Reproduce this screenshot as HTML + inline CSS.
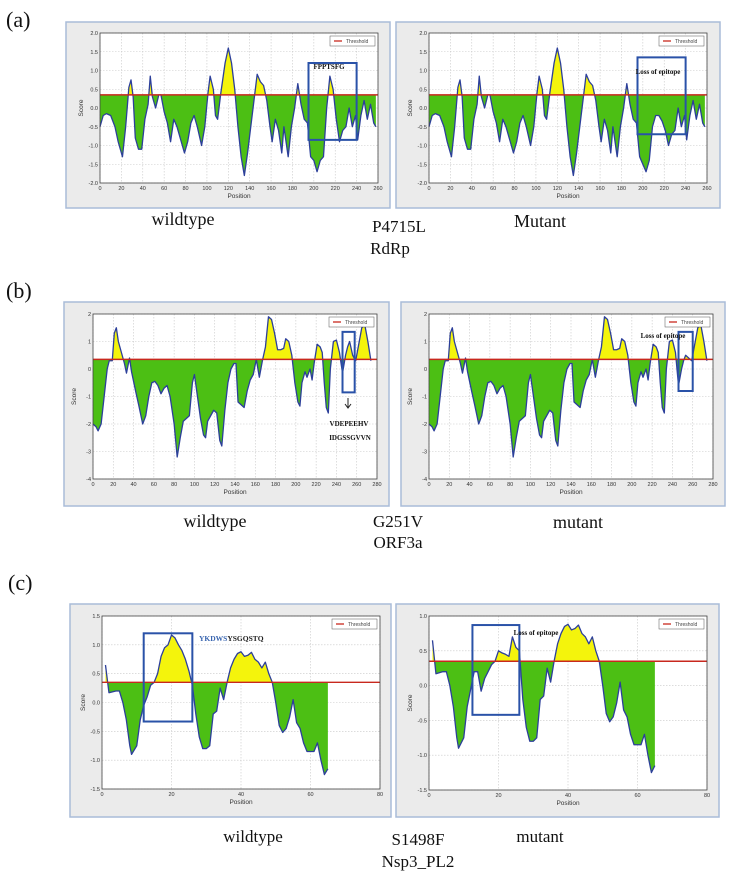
<!DOCTYPE html>
<html><head><meta charset="utf-8">
<style>
body{margin:0;background:#fff;width:738px;height:878px;overflow:hidden;position:relative;font-family:"Liberation Serif",serif}
svg{position:absolute;left:0;top:0}
</style></head>
<body>
<svg id="fig" width="738" height="878" viewBox="0 0 738 878"></svg>
<script>
// ---- data (a) RdRp ----
const aPosWt=[0,3,6,10,14,17,21,24,27,29,31,33,36,39,42,45,47,49,52,55,57,60,63,66,69,72,76,79,82,85,88,91,95,98,101,103,106,108,110,113,117,120,123,126,129,132,135,138,141,144,147,150,153,156,159,161,164,167,170,172,174,176,179,182,185,188,191,194,197,200,203,206,209,212,215,218,221,224,227,230,233,236,239,241,244,247,250,253,256,258];
const aScoreWt=[-0.5,-0.2,-0.15,-0.2,-0.5,-0.9,-1.3,-0.5,0.55,0.75,0.3,-0.8,-1.1,-1.1,-0.3,0.1,0.85,0.3,0.0,0.35,0.35,-0.1,-0.4,-0.9,-0.3,-0.5,-0.9,-1.2,-0.9,-0.4,-0.2,-0.5,-1.0,-0.5,0.4,0.85,0.5,-0.2,-0.3,0.4,1.2,1.6,1.2,0.5,-0.5,-1.3,-1.8,-1.2,-0.5,0.2,0.9,0.7,0.6,0.2,-0.5,-0.9,-0.3,-0.6,-1.2,-0.5,-0.9,-1.3,-0.5,0.0,0.65,0.1,-0.3,-0.4,-1.3,-1.4,-1.7,-1.4,-1.3,0.0,0.85,0.5,-0.3,-0.9,-0.6,-0.5,0.0,-0.5,-0.2,-0.85,-0.2,0.2,-0.3,0.1,-0.4,-0.5];
const aScoreMut=[-0.5,-0.2,-0.15,-0.2,-0.5,-0.9,-1.3,-0.5,0.55,0.75,0.3,-0.8,-1.1,-1.1,-0.3,0.1,0.85,0.3,0.0,0.35,0.35,-0.1,-0.4,-0.9,-0.3,-0.5,-0.9,-1.2,-0.9,-0.4,-0.2,-0.5,-1.0,-0.5,0.4,0.85,0.5,-0.2,-0.3,0.4,1.2,1.6,1.2,0.5,-0.5,-1.3,-1.8,-1.2,-0.5,0.2,0.9,0.7,0.6,0.2,-0.5,-0.9,-0.3,-0.6,-1.2,-0.5,-0.9,-1.3,-0.5,0.0,0.65,0.1,-0.3,-0.4,-1.3,-1.5,-1.7,-1.4,-0.5,-0.2,-0.2,-0.35,-0.6,-1.0,-0.7,-0.6,0.0,-0.5,-0.2,-0.85,-0.2,0.2,-0.3,0.1,-0.4,-0.5];
// ---- data (b) ORF3a ----
const bPosWt=[0,3,5,8,11,14,16,19,21,23,25,28,31,33,36,38,42,45,49,52,55,58,61,64,67,70,73,76,80,83,86,89,92,95,98,100,103,106,109,111,113,116,119,122,125,127,130,133,136,139,141,143,146,149,152,155,158,161,164,167,170,173,176,179,182,185,188,190,193,196,199,202,204,206,209,211,214,216,218,221,224,226,228,230,232,234,237,240,243,246,249,251,253,256,259,262,265,268,271,274];
const bScoreWt=[-2.0,-2.1,-2.25,-2.0,-1.0,0.0,0.3,0.3,1.3,1.5,1.0,0.6,0.2,-0.15,0.4,-0.1,-0.8,-1.3,-2.0,-1.7,-1.0,-0.5,-0.45,-0.6,-0.9,-0.7,-0.6,-1.0,-2.0,-3.2,-2.5,-1.9,-1.8,-1.7,-0.5,-0.2,-1.0,-1.8,-2.4,-2.5,-1.9,-1.7,-1.5,-1.6,-2.6,-2.8,-1.5,-0.5,0.0,0.2,0.2,-1.2,-1.3,-1.4,-0.8,-0.4,-0.2,0.35,-0.3,0.3,0.8,1.9,1.8,1.3,0.7,0.7,0.75,1.1,1.0,0.5,-0.5,-1.2,-1.35,-0.5,-0.1,-0.3,0.0,-0.4,0.2,0.9,0.8,0.6,-0.5,-1.4,-1.6,0.0,1.0,1.05,0.6,-0.15,0.5,0.8,1.0,0.5,0.3,0.9,1.5,1.6,1.0,0.3];
const bScoreMut=[-2.0,-2.1,-2.25,-2.0,-1.0,0.0,0.3,0.3,1.3,1.5,1.0,0.6,0.2,-0.15,0.4,-0.1,-0.8,-1.3,-2.0,-1.7,-1.0,-0.5,-0.45,-0.6,-0.9,-0.7,-0.6,-1.0,-2.0,-3.2,-2.5,-1.9,-1.8,-1.7,-0.5,-0.2,-1.0,-1.8,-2.4,-2.5,-1.9,-1.7,-1.5,-1.6,-2.6,-2.8,-1.5,-0.5,0.0,0.2,0.2,-1.2,-1.3,-1.4,-0.8,-0.4,-0.2,0.35,-0.3,0.3,0.8,1.9,1.8,1.3,0.7,0.7,0.75,1.1,1.0,0.5,-0.5,-1.2,-1.35,-0.5,-0.1,-0.3,0.0,-0.4,0.2,0.9,0.8,0.6,-0.5,-1.4,-1.6,0.0,1.0,1.05,0.6,-0.6,0.0,0.3,0.5,0.4,0.3,0.9,1.5,1.6,1.0,0.3];
// ---- data (c) Nsp3_PL2 ----
const cPosWt=[1,2,4,5,6,7,8,8.5,10,11,12,13,14,15,16,17,18,19,20,21,22,23,24,25,26,27,28,29,30,31,32,33,34,35,36,37,38,39,40,41,42,43,44,45,46,47,48,49,50,51,52,53,54,55,56,57,58,59,60,61,62,63,64,65];
const cScoreWt=[0.65,0.17,0.2,0.2,0.0,-0.3,-0.75,-0.9,-0.75,-0.3,-0.05,0.1,0.3,0.35,0.5,0.8,0.95,1.0,1.17,1.12,1.0,0.9,0.75,0.55,0.3,-0.2,-0.6,-0.8,-0.8,-0.75,-0.2,-0.15,0.25,0.05,0.35,0.6,0.75,0.85,0.88,0.8,0.82,0.87,0.75,0.7,0.6,0.7,0.5,0.35,0.0,-0.4,-0.52,-0.45,-0.25,0.05,-0.35,-0.45,-0.7,-0.85,-0.85,-0.85,-0.7,-1.0,-1.25,-1.15];
const cScoreMut=[0.65,0.17,0.2,0.2,0.0,-0.3,-0.75,-0.9,-0.75,-0.3,-0.05,0.2,0.2,-0.08,0.1,0.2,0.3,0.35,0.5,0.47,0.45,0.42,0.7,0.55,0.5,-0.2,-0.6,-0.8,-0.8,-0.75,-0.2,-0.15,0.25,0.05,0.35,0.6,0.75,0.85,0.88,0.8,0.82,0.87,0.75,0.7,0.6,0.7,0.5,0.35,0.0,-0.4,-0.52,-0.45,-0.25,0.05,-0.35,-0.45,-0.7,-0.85,-0.85,-0.85,-0.7,-1.0,-1.25,-1.15];
const threshold=0.35;
const aXTicks=[0,20,40,60,80,100,120,140,160,180,200,220,240,260];
const aYTicks=[2.0,1.5,1.0,0.5,0.0,-0.5,-1.0,-1.5,-2.0];
const bXTicks=[0,20,40,60,80,100,120,140,160,180,200,220,240,260,280];
const bYTicks=[2,1,0,-1,-2,-3,-4];
const cXTicks=[0,20,40,60,80];
const cYTicksWt=[1.5,1.0,0.5,0.0,-0.5,-1.0,-1.5];
const cYTicksMut=[1.0,0.5,0.0,-0.5,-1.0,-1.5];

const NS="http://www.w3.org/2000/svg";
const svg=document.getElementById('fig');
let clipId=0;
function mk(tag,attrs,parent,text){const e=document.createElementNS(NS,tag);for(const k in attrs)e.setAttribute(k,attrs[k]);if(text!==undefined)e.textContent=text;(parent||svg).appendChild(e);return e;}

function panel(cfg){
  const g=mk('g',{});
  
  
  const bx=mk('rect',{x:cfg.box[0],y:cfg.box[1],width:cfg.box[2]-cfg.box[0],height:cfg.box[3]-cfg.box[1],fill:'#ebebeb',stroke:'#a9bcd8','stroke-width':1.5},g);
  
  const [px0,py0,px1,py1]=cfg.plot;
  const [xmin,xmax]=cfg.xd,[ymin,ymax]=cfg.yd;
  const X=v=>px0+(v-xmin)/(xmax-xmin)*(px1-px0);
  const Y=v=>py1-(v-ymin)/(ymax-ymin)*(py1-py0);
  mk('rect',{x:px0,y:py0,width:px1-px0,height:py1-py0,fill:'#fff'},g);
  cfg.xt.forEach(t=>{mk('line',{x1:X(t),x2:X(t),y1:py0,y2:py1,stroke:'#c8c8c8','stroke-width':0.6,'stroke-dasharray':'1.5,1.5'},g);
    const tl=mk('text',{x:X(t),y:py1+7,'font-size':5.5,'text-anchor':'middle','font-family':'Liberation Sans, sans-serif',fill:'#333'},g,String(t));
    });
  cfg.yt.forEach(t=>{mk('line',{x1:px0,x2:px1,y1:Y(t),y2:Y(t),stroke:'#c8c8c8','stroke-width':0.6,'stroke-dasharray':'1.5,1.5'},g);
    const tl=mk('text',{x:px0-2,y:Y(t)+2,'font-size':5.5,'text-anchor':'end','font-family':'Liberation Sans, sans-serif',fill:'#333'},g,cfg.dec?t.toFixed(1):String(t));
    });
  const pts=cfg.pos.map((p,i)=>[X(p),Y(cfg.score[i])]);
  const ty=Y(threshold);
  let d='M'+pts[0][0]+','+ty+' '+pts.map(p=>'L'+p[0]+','+p[1]).join(' ')+' L'+pts[pts.length-1][0]+','+ty+'Z';
  const defs=mk('defs',{},g);
  const ca='c'+(clipId++),cb='c'+(clipId++);
  const cpa=mk('clipPath',{id:ca},defs);mk('rect',{x:px0,y:py0,width:px1-px0,height:ty-py0},cpa);
  const cpb=mk('clipPath',{id:cb},defs);mk('rect',{x:px0,y:ty,width:px1-px0,height:py1-ty},cpb);
  const fy=mk('path',{d:d,fill:'#f4f40c','clip-path':'url(#'+ca+')'},g);
  
  const fg=mk('path',{d:d,fill:'#4cbf14','clip-path':'url(#'+cb+')'},g);
  
  const ln=mk('polyline',{points:pts.map(p=>p.join(',')).join(' '),fill:'none',stroke:'#2c3f9a','stroke-width':1.3,'stroke-linejoin':'round'},g);
  
  const th=mk('line',{x1:px0,x2:px1,y1:ty,y2:ty,stroke:'#c8281e','stroke-width':1.4},g);
  
  mk('rect',{x:px0,y:py0,width:px1-px0,height:py1-py0,fill:'none',stroke:'#444','stroke-width':0.8},g);
  const lg=mk('g',{},g);
  mk('rect',{x:px1-48,y:py0+3,width:45,height:10,fill:'#fff',stroke:'#555','stroke-width':0.5},lg);
  mk('line',{x1:px1-44,x2:px1-36,y1:py0+8,y2:py0+8,stroke:'#c8281e','stroke-width':1.3},lg);
  mk('text',{x:px1-32,y:py0+10,'font-size':5,'font-family':'Liberation Sans, sans-serif',fill:'#444'},lg,'Threshold');
  const xl=mk('text',{x:(px0+px1)/2,y:py1+15,'font-size':6.5,'text-anchor':'middle','font-family':'Liberation Sans, sans-serif',fill:'#333'},g,'Position');
  
  const yl=mk('text',{x:0,y:0,'font-size':6.5,'text-anchor':'middle','font-family':'Liberation Sans, sans-serif',fill:'#333',transform:'translate('+(px0-17)+','+((py0+py1)/2)+') rotate(-90)'},g,'Score');
  
  const hb=cfg.hl;
  const hr=mk('rect',{x:X(hb[0]),y:Y(hb[2]),width:X(hb[1])-X(hb[0]),height:Y(hb[3])-Y(hb[2]),fill:'none',stroke:'#2a52a8','stroke-width':2},g);
  
  return g;
}

panel({name:'panel-a-wildtype',box:[66,22,390,208],plot:[100,33,378,183],xd:[0,260],yd:[-2,2],xt:aXTicks,yt:aYTicks,dec:true,pos:aPosWt,score:aScoreWt,hl:[195,240,1.2,-0.85]});
panel({name:'panel-a-mutant',box:[396,22,720,208],plot:[429,33,707,183],xd:[0,260],yd:[-2,2],xt:aXTicks,yt:aYTicks,dec:true,pos:aPosWt,score:aScoreMut,hl:[195,240,1.35,-0.7]});
panel({name:'panel-b-wildtype',box:[64,302,389,506],plot:[93,314,377,479],xd:[0,280],yd:[-4,2],xt:bXTicks,yt:bYTicks,dec:false,pos:bPosWt,score:bScoreWt,hl:[246,258,1.35,-0.85]});
panel({name:'panel-b-mutant',box:[401,302,725,506],plot:[429,314,713,479],xd:[0,280],yd:[-4,2],xt:bXTicks,yt:bYTicks,dec:false,pos:bPosWt,score:bScoreMut,hl:[246,260,1.35,-0.8]});
panel({name:'panel-c-wildtype',box:[70,604,391,817],plot:[102,616,380,789],xd:[0,80],yd:[-1.5,1.5],xt:cXTicks,yt:cYTicksWt,dec:true,pos:cPosWt,score:cScoreWt,hl:[12,26,1.2,-0.33]});
panel({name:'panel-c-mutant',box:[396,604,719,817],plot:[429,616,707,790],xd:[0,80],yd:[-1.5,1.0],xt:cXTicks,yt:cYTicksMut,dec:true,pos:cPosWt,score:cScoreMut,hl:[12.5,26,0.87,-0.42]});

function label(x,y,size,txt,name,anchor,weight,fill){
  const t=mk('text',{x:x,y:y,'font-size':size,'text-anchor':anchor||'middle','font-weight':weight||'normal',fill:fill||'#111','font-family':'Liberation Serif, serif'},svg,txt);
  
  
  return t;
}
label(6,27,22,'(a)','panel-label-a','start');
label(6,298,22,'(b)','panel-label-b','start');
label(8,590,22,'(c)','panel-label-c','start');
label(183,225,18,'wildtype','caption-a-wildtype');
label(540,227,18,'Mutant','caption-a-mutant');
label(399,232,17,'P4715L','mutation-a');
label(390,254,17,'RdRp','protein-a');
label(215,527,18,'wildtype','caption-b-wildtype');
label(578,528,18,'mutant','caption-b-mutant');
label(398,527,17,'G251V','mutation-b');
label(398,548,17,'ORF3a','protein-b');
label(253,842,17,'wildtype','caption-c-wildtype');
label(540,842,17,'mutant','caption-c-mutant');
label(418,845,17,'S1498F','mutation-c');
label(418,867,17,'Nsp3_PL2','protein-c');
label(329,69,7,'FPPTSFG','epitope-a-wildtype','middle','bold');
label(658,74,7,'Loss of epitope','loss-epitope-a','middle','bold');
label(663,338,7,'Loss of epitope','loss-epitope-b','middle','bold');
label(536,635,7,'Loss of epitope','loss-epitope-c','middle','bold');
label(349,426,7,'VDEPEEHV','epitope-b-line1','middle','bold');
label(350,440,7,'IDGSSGVVN','epitope-b-line2','middle','bold');
const ep=mk('text',{x:199,y:641,'font-size':7.5,'font-weight':'bold','font-family':'Liberation Serif, serif'});


mk('tspan',{fill:'#3a66b0'},ep,'YKDWS');mk('tspan',{fill:'#222'},ep,'YSGQSTQ');
const ar=mk('path',{d:'M348,398 L348,408 M345,404 L348,408 L351,404',stroke:'#222',fill:'none','stroke-width':1});


</script>
</body></html>
